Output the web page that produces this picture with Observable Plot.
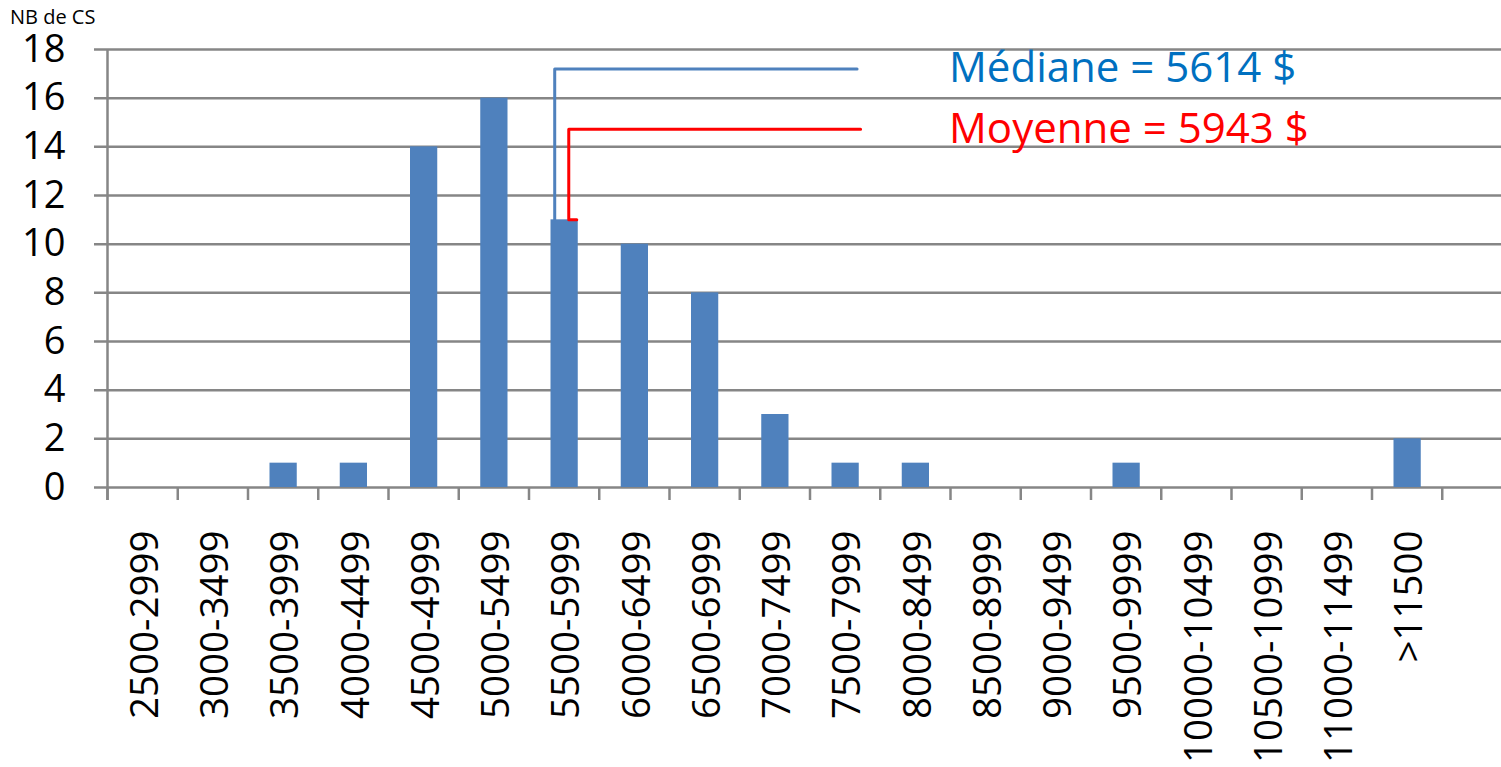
<!DOCTYPE html>
<html>
<head>
<meta charset="utf-8">
<script src="https://cdn.jsdelivr.net/npm/d3@7"></script>
<script src="https://cdn.jsdelivr.net/npm/@observablehq/plot@0.6"></script>
<style>
  html, body { margin: 0; padding: 0; background: #fff; overflow: hidden; }
  #title { height: 29px; box-sizing: border-box; padding: 7px 0 0 10px; font: 20px "Open Sans", sans-serif; line-height: 1; color: #000; }
  #chart svg { overflow: visible; }
</style>
</head>
<body>
<div id="title">NB de CS</div>
<div id="chart"></div>
<script>
// --- Data ---
const categories = ["2500-2999","3000-3499","3500-3999","4000-4499","4500-4999","5000-5499","5500-5999","6000-6499","6500-6999","7000-7499","7500-7999","8000-8499","8500-8999","9000-9499","9500-9999","10000-10499","10500-10999","11000-11499",">11500"];
const counts = [0,0,1,1,14,16,11,10,8,3,1,1,0,0,1,0,0,0,2];
const yTicks = [0,2,4,6,8,10,12,14,16,18];

// annotation leaders (x in category-slot units, y in count units)
const medianLabel = "Médiane = 5614 $";
const medianPathX = [6.366, 6.366, 10.67];
const medianPathY = [11, 17.2, 17.2];
const meanLabel = "Moyenne = 5943 $";
const meanPathX = [6.68, 6.566, 6.566, 10.72];
const meanPathY = [11, 11, 14.72, 14.72];
const labelX = 11.98;

const bars = counts.map((v, i) => ({i, v}));
const slots = d3.range(0, categories.length + 1);
const labels = categories.map((c, i) => ({c, pos: i + 0.5}));
const med = medianPathX.map((x, k) => ({x, y: medianPathY[k]}));
const mean = meanPathX.map((x, k) => ({x, y: meanPathY[k]}));

const grey = "#868686";

const chart = Plot.plot({
  width: 1501,
  height: 738,
  marginTop: 20,
  marginBottom: 280,
  marginLeft: 107,
  marginRight: 0,
  style: {fontFamily: "'Open Sans', sans-serif", fontSize: "38px", color: "#000", overflow: "visible"},
  x: {type: "linear", domain: [0, 20], range: [107, 1512], axis: null},
  y: {domain: [0, 18], nice: false, axis: null},
  marks: [
    Plot.ruleY(yTicks, {y: d => d, stroke: grey, strokeWidth: 2.5, insetLeft: -13}),
    Plot.ruleX([0], {stroke: grey, strokeWidth: 2.5, insetBottom: -13}),
    Plot.axisX({ticks: slots, tickSize: 13, tickFormat: () => "", stroke: grey, strokeWidth: 2.5, label: null}),
    Plot.axisY({ticks: yTicks, tickSize: 0, tickPadding: 42, fontSize: 38, fill: "#000", label: null, tickFormat: d => String(d)}),
    Plot.rectY(bars, {x1: d => d.i, x2: d => d.i + 1, y: d => d.v, insetLeft: 22, insetRight: 21, fill: "#4F81BD"}),
    Plot.line(med, {x: "x", y: "y", stroke: "#4F81BD", strokeWidth: 3, curve: "linear"}),
    Plot.line(mean, {x: "x", y: "y", stroke: "#FF0000", strokeWidth: 3, curve: "linear"}),
    Plot.text([medianLabel], {x: labelX, y: medianPathY[1], text: d => d, fill: "#0070C0", fontSize: 42, textAnchor: "start", lineAnchor: "middle"}),
    Plot.text([meanLabel], {x: labelX, y: meanPathY[2], text: d => d, fill: "#FF0000", fontSize: 42, textAnchor: "start", lineAnchor: "middle"}),
    Plot.text(labels, {x: "pos", text: "c", frameAnchor: "bottom", rotate: -90, textAnchor: "end", lineAnchor: "middle", dx: 3, dy: 43, fontSize: 38.5, fill: "#000"})
  ]
});
document.getElementById("chart").appendChild(chart);
</script>
</body>
</html>
